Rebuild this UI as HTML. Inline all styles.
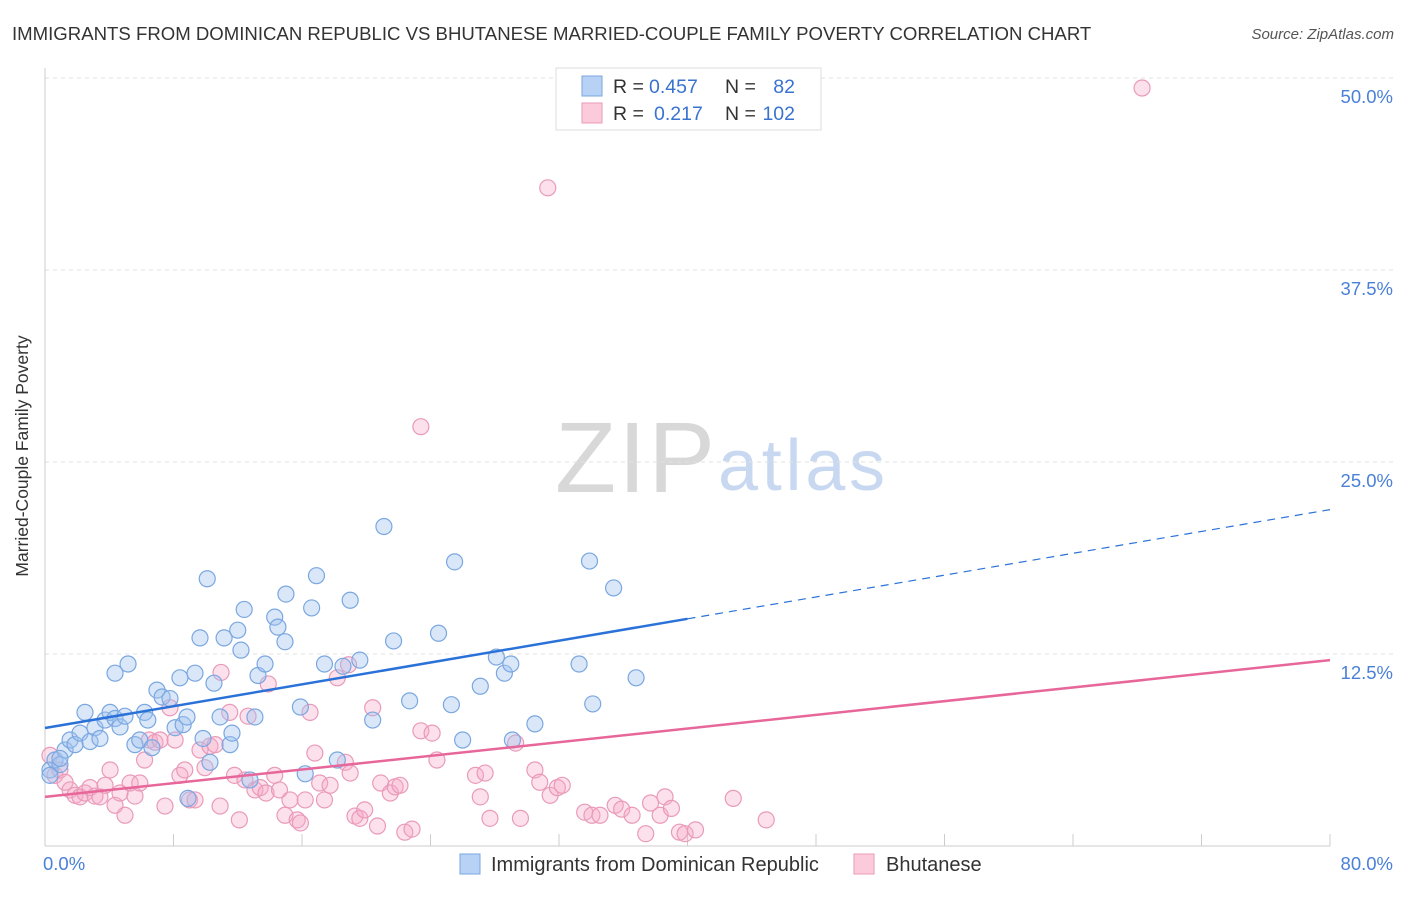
<!DOCTYPE html>
<html><head><meta charset="utf-8"><style>
body{margin:0;background:#fff;font-family:"Liberation Sans",sans-serif}
svg text{font-family:"Liberation Sans",sans-serif}
</style></head><body>
<svg id="chart" width="1406" height="892">
<text x="12" y="40" font-size="18.6" fill="#333">IMMIGRANTS FROM DOMINICAN REPUBLIC VS BHUTANESE MARRIED-COUPLE FAMILY POVERTY CORRELATION CHART</text>
<text x="1394" y="39" font-size="15" fill="#555" text-anchor="end" font-style="italic">Source: ZipAtlas.com</text>
<text x="28" y="456" font-size="17.5" fill="#333" text-anchor="middle" transform="rotate(-90 28 456)">Married-Couple Family Poverty</text>
<g><text x="555" y="492" font-size="100" fill="#d8d8d8" textLength="160" font-family="Liberation Serif">ZIP</text><text x="718" y="490" font-size="72" fill="#c8d8f0" textLength="167">atlas</text></g>
<g id="grid"></g><g id="marks"></g>
<g>
<rect x="556" y="68" width="265" height="62" fill="#fff" stroke="#ddd"/>
<rect x="582" y="76" width="20" height="20" fill="#b8d2f5" stroke="#7aa7e0"/>
<rect x="582" y="103" width="20" height="20" fill="#fbcadb" stroke="#e99ab9"/>
<text x="613" y="93" font-size="19.5" fill="#333">R =</text>
<text x="649" y="93" font-size="19.5" fill="#3a72d0">0.457</text>
<text x="725" y="93" font-size="19.5" fill="#333">N =</text>
<text x="795" y="93" font-size="19.5" fill="#3a72d0" text-anchor="end">82</text>
<text x="613" y="120" font-size="19.5" fill="#333">R =</text>
<text x="654" y="120" font-size="19.5" fill="#3a72d0">0.217</text>
<text x="725" y="120" font-size="19.5" fill="#333">N =</text>
<text x="795" y="120" font-size="19.5" fill="#3a72d0" text-anchor="end">102</text>
</g>
<g>
<rect x="460" y="854" width="20" height="20" fill="#b8d2f5" stroke="#7aa7e0"/>
<text x="491" y="871" font-size="20" fill="#333">Immigrants from Dominican Republic</text>
<rect x="854" y="854" width="20" height="20" fill="#fbcadb" stroke="#e99ab9"/>
<text x="886" y="871" font-size="20" fill="#333">Bhutanese</text>
</g>
</svg>
<script>
const blueX=[.31,.62,.93,1.25,1.56,1.87,2.18,2.49,2.8,3.11,3.42,3.74,4.05,4.36,4.67,4.98,4.36,5.17,5.6,5.9,6.2,6.4,6.66,6.97,7.29,7.78,8.1,8.4,8.6,8.84,9.34,9.65,9.84,10.1,10.27,10.52,10.9,11.15,11.52,11.64,12.0,12.2,12.4,12.76,13.07,13.26,13.7,14.3,14.5,14.94,15.0,15.9,16.2,16.6,16.9,17.4,18.2,18.55,19.0,19.6,20.4,21.1,21.7,22.7,24.5,25.3,25.5,26.0,27.1,28.1,28.6,29.0,29.1,30.5,33.25,33.9,34.1,35.4,36.8,8.9,.31,.93];
const blueY=[4.95,5.6,5.3,6.25,6.9,6.6,7.35,8.7,6.8,7.7,7.0,8.2,8.7,8.3,7.75,8.45,11.25,11.85,6.6,6.9,8.7,8.2,6.4,10.15,9.7,9.6,7.7,10.95,7.9,8.4,11.25,13.55,7.0,17.4,5.45,10.6,8.4,13.55,6.6,7.35,14.05,12.75,15.4,4.3,8.4,11.1,11.85,14.9,14.25,13.3,16.4,9.05,4.7,15.5,17.6,11.85,5.6,11.7,16.0,12.1,8.2,20.8,13.35,9.45,13.85,9.2,18.5,6.9,10.4,12.3,11.25,11.85,6.9,7.95,11.85,18.55,9.25,16.8,10.95,3.1,4.6,5.7];
const pinkX=[68.3,31.3,23.4,.31,.62,.93,1.25,1.56,1.87,2.18,2.49,2.8,3.11,3.42,3.74,4.05,4.36,4.67,4.98,5.3,5.6,5.9,6.2,6.5,6.85,7.16,7.47,7.78,8.1,8.4,8.7,9.0,9.34,9.65,9.96,10.27,10.6,10.9,10.96,11.5,11.8,12.1,12.45,12.64,13.07,13.4,13.76,13.9,14.3,14.6,14.94,15.25,15.7,15.9,16.2,16.5,16.8,17.1,17.4,17.75,18.2,18.7,18.9,19.0,19.3,19.6,19.9,20.4,20.7,20.9,21.5,21.8,22.1,22.4,22.85,23.4,24.1,24.4,26.8,27.1,27.4,27.7,29.3,29.6,30.5,30.8,31.45,31.9,32.2,33.6,34.05,34.55,35.5,35.9,36.55,37.4,37.7,38.3,38.6,39.0,39.5,39.85,40.5,42.85,44.9];
const pinkY=[49.35,42.85,27.3,5.9,4.6,4.95,4.15,3.65,3.3,3.2,3.45,3.8,3.25,3.2,3.95,4.95,2.65,3.45,2.0,4.1,3.25,4.1,5.6,6.9,6.75,6.9,2.6,9.0,6.9,4.6,4.95,3.0,3.0,6.25,5.1,6.5,6.6,2.6,11.3,8.7,4.6,1.7,4.3,8.45,3.65,3.8,3.45,10.55,4.6,3.65,2.0,3.0,1.7,1.5,3.0,8.7,6.05,4.1,3.0,3.95,10.95,5.45,11.8,4.75,1.95,1.8,2.35,9.0,1.3,4.1,3.45,3.85,3.95,0.9,1.1,7.5,7.35,5.6,4.6,3.2,4.75,1.8,6.7,1.8,4.95,4.15,3.3,3.8,3.95,2.2,2.0,2.0,2.65,2.4,2.0,0.8,2.8,2.0,3.2,2.45,0.9,0.8,1.05,3.1,1.7];
const yTicks=[12.5,25.0,37.5,50.0];
const xTickVals=[0,8,16,24,32,40,48,56,64,72,80];
const blueTrend=[7.68,21.9]; // values at x=0 and x=80
const pinkTrend=[3.2,12.1];
const blueSolidEnd=40;
const NS="http://www.w3.org/2000/svg";
const xs=v=>45+v*(1330-45)/80;
const ys=v=>846-v*(846-78)/50;
function mk(t,a,p){const e=document.createElementNS(NS,t);for(const k in a)e.setAttribute(k,a[k]);p.appendChild(e);return e;}
const grid=document.getElementById('grid'),marks=document.getElementById('marks');
yTicks.forEach(t=>{
 const l=mk('line',{x1:45,x2:1395,y1:ys(t),y2:ys(t),stroke:'#e2e2e2','stroke-dasharray':'4,4'},grid);
 
 
 const tx=mk('text',{x:1393,y:ys(t)+25,'font-size':18.5,fill:'#4a80d8','text-anchor':'end'},grid);
 tx.textContent=t.toFixed(1)+'%';
 
 
});
const ax=mk('line',{x1:45,x2:1330,y1:846,y2:846,stroke:'#ccc'},grid);


const yax=mk('line',{x1:45,x2:45,y1:68,y2:846,stroke:'#ccc'},grid);


xTickVals.forEach(t=>{
 const l=mk('line',{x1:xs(t),x2:xs(t),y1:846,y2:834,stroke:'#ccc'},grid);
 
 
});
[[0,'start'],[80,'end']].forEach(([t,a])=>{
 const tx=mk('text',{x:t?xs(t)+63:xs(t)-2,y:870,'font-size':18.5,fill:'#4a80d8','text-anchor':a},grid);
 tx.textContent=t.toFixed(1)+'%';
 
 
});
function dots(X,Y,fill,stroke,name){
 X.forEach((x,i)=>{
  const c=mk('circle',{cx:xs(x),cy:ys(Y[i]),r:8,fill:fill,stroke:stroke,'stroke-width':1.2},marks);
  
  
 });
}
dots(pinkX,pinkY,'rgba(246,170,200,0.35)','#e99ab9','bhutanese-point');
dots(blueX,blueY,'rgba(160,195,240,0.4)','#7aa7e0','dominican-point');
const bAt=x=>blueTrend[0]+(blueTrend[1]-blueTrend[0])*x/80;
const bl=mk('line',{x1:xs(0),y1:ys(bAt(0)),x2:xs(blueSolidEnd),y2:ys(bAt(blueSolidEnd)),stroke:'#2a72d8','stroke-width':2.5},marks);


const bd=mk('line',{x1:xs(blueSolidEnd),y1:ys(bAt(blueSolidEnd)),x2:xs(80),y2:ys(bAt(80)),stroke:'#2a72d8','stroke-width':1.2,'stroke-dasharray':'8,6'},marks);


const pl=mk('line',{x1:xs(0),y1:ys(pinkTrend[0]),x2:xs(80),y2:ys(pinkTrend[1]),stroke:'#e8679a','stroke-width':2.5},marks);


</script>
</body></html>
